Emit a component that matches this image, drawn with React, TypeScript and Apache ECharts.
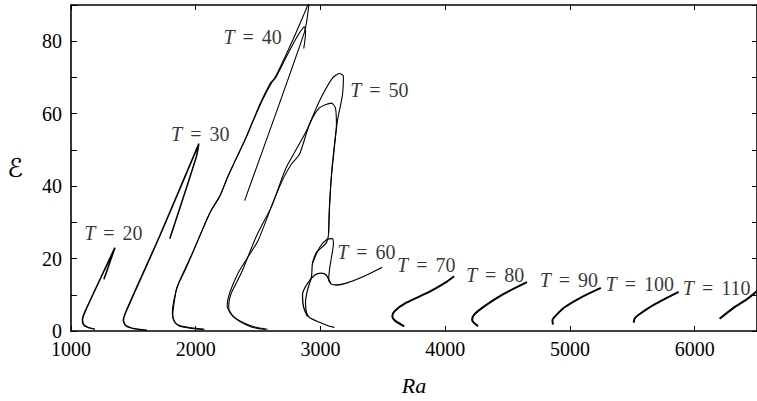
import React, { useEffect, useRef } from 'react';
import * as echarts from 'echarts';

// Curves: [Ra, E] pairs
const t20 = [[1192, 0.5], [1136, 1.0], [1100, 1.8], [1092, 3.2], [1120, 5.9], [1236, 14.5], [1352, 23.0], [1306, 18.4], [1264, 14.3]];
const t30 = [[1608, 0.2], [1512, 0.6], [1440, 1.5], [1420, 3.0], [1444, 5.6], [1712, 26.3], [2024, 51.6], [2004, 48.0], [1792, 25.5]];
const t40a = [[2072, 0.5], [1960, 0.9], [1872, 1.5], [1832, 2.5], [1816, 4.5], [1828, 8.0], [1848, 11.9], [1912, 17.0], [1976, 21.7], [2112, 32.5], [2192, 37.1], [2256, 42.6], [2330, 48.0], [2392, 52.6], [2440, 56.5], [2520, 63.0], [2600, 68.5], [2632, 69.8], [2700, 74.5], [2780, 80.5], [2850, 86.0], [2904, 90.5], [2912, 91.5], [2896, 87.0], [2872, 82.5], [2392, 36.0]];
const t40b = [[2060, 0.4], [1950, 0.8], [1866, 1.4], [1828, 2.6], [1812, 4.8], [1824, 8.3], [1856, 12.5], [1920, 17.2], [1984, 22.3], [2116, 32.8], [2196, 37.5], [2262, 42.9], [2338, 48.6], [2398, 52.9], [2452, 57.3], [2534, 63.7], [2610, 68.6], [2646, 70.2], [2716, 75.0], [2800, 80.5], [2856, 83.5], [2872, 84.0], [2880, 82.0], [2866, 78.0]];
const t50a = [[2576, 0.5], [2456, 1.3], [2312, 3.7], [2264, 6.4], [2280, 10.0], [2368, 16.2], [2488, 26.3], [2608, 34.4], [2696, 42.6], [2728, 45.3], [2888, 55.3], [2992, 63.5], [3096, 69.8], [3152, 71.1], [3184, 70.3], [3176, 65.1], [3136, 58.0], [3112, 50.7], [3088, 42.6], [3072, 34.4], [3064, 26.3]];
const t50b = [[2560, 0.4], [2440, 1.2], [2300, 4.0], [2252, 7.0], [2272, 10.5], [2340, 16.0], [2420, 20.5], [2500, 25.0], [2620, 35.5], [2700, 42.0], [2768, 46.1], [2832, 48.8], [2912, 57.0], [2992, 61.6], [3088, 62.9], [3120, 61.6], [3128, 57.0], [3112, 51.5], [3090, 44.0], [3074, 35.0], [3066, 27.0]];
const t60a = [[3064, 26.3], [3048, 24.4], [3008, 23.0], [2968, 21.7], [2936, 18.7], [2928, 14.9], [2896, 11.3], [2880, 7.8], [2888, 5.1], [2912, 3.7], [2992, 2.4], [3072, 1.3], [3112, 1.0]];
const t60b = [[2896, 4.0], [2864, 6.7], [2856, 10.0], [2888, 12.7], [2952, 15.4], [3008, 16.0], [3048, 15.4], [3072, 13.8], [3088, 12.9], [3128, 12.7], [3208, 13.2], [3336, 14.9], [3496, 17.6]];
const t60c = [[2936, 18.7], [2992, 23.0], [3048, 25.2], [3096, 25.5], [3104, 24.1], [3088, 20.3], [3072, 16.8], [3066, 14.0], [3080, 13.2]];
const t70 = [[3672, 1.3], [3600, 2.8], [3576, 4.0], [3592, 5.4], [3688, 7.8], [3872, 10.8], [4008, 13.5], [4072, 15.1]];
const t80 = [[4264, 1.3], [4224, 2.5], [4216, 3.1], [4232, 4.5], [4296, 6.4], [4456, 10.0], [4656, 13.5]];
const t90 = [[4864, 1.8], [4860, 3.0], [4872, 3.7], [4952, 6.4], [5080, 9.1], [5248, 11.9]];
const t100 = [[5512, 2.3], [5520, 3.5], [5552, 4.5], [5672, 7.2], [5872, 10.8]];
const t110 = [[6200, 3.4], [6312, 6.4], [6420, 8.8], [6520, 11.6]];

// Curve labels: T value and anchor position in data coordinates
const labelT = [20, 30, 40, 50, 60, 70, 80, 90, 100, 110];
const labelRa = [1340, 2036, 2456, 3472, 3368, 3848, 4400, 4992, 5560, 6176];
const labelE = [27.1, 54.5, 81.2, 66.5, 21.7, 18.1, 15.4, 14.0, 13.0, 11.9];

const xTicks = [1000, 2000, 3000, 4000, 5000, 6000];
const yTicks = [0, 20, 40, 60, 80];

const FONT = '"Liberation Serif", "DejaVu Serif", serif';

export default function App() {
  const ref = useRef<HTMLDivElement>(null);
  useEffect(() => {
    if (!ref.current) return;
    const chart = echarts.init(ref.current, undefined, { renderer: 'svg' });
    const curves: [number[][], number][] = [
      [t20, 1.6], [t30, 1.6], [t40a, 1.1], [t40b, 1.1], [t50a, 1.1], [t50b, 1.1],
      [t60a, 1.2], [t60b, 1.3], [t60c, 1.1], [t70, 2.0], [t80, 2.0], [t90, 2.0], [t100, 2.0], [t110, 2.0],
    ];
    const lineSeries = curves.map(([d, w], i) => ({
      type: 'line',
      name: 'c' + i,
      data: d,
      showSymbol: false,
      smooth: 0.25,
      clip: true,
      lineStyle: { color: '#000', width: w },
      silent: true,
    }));
    const labelSeries = {
      type: 'scatter',
      symbolSize: 0,
      data: labelT.map((t, i) => [labelRa[i], labelE[i], t]),
      label: {
        show: true,
        position: 'inside',
        formatter: (p: any) => `{i|T} {e|=} ${p.value[2]}`,
        color: '#000',
        fontFamily: FONT,
        fontSize: 20,
        rich: {
          i: { fontStyle: 'italic', fontFamily: FONT, fontSize: 20, color: '#000' },
          e: { fontFamily: FONT, fontSize: 20, color: '#000', padding: [0, 3, 0, 3] },
        },
      },
      silent: true,
    };
    const axisLine = { show: true, onZero: false, lineStyle: { color: '#000', width: 1.6 } };
    chart.setOption({
      animation: false,
      grid: { left: 71, top: 5, width: 687.5, height: 331.7, containLabel: false },
      xAxis: [
        {
          type: 'value', min: 1000, max: 6500, interval: 1000, position: 'bottom',
          axisLine, axisTick: { show: true, inside: true, length: 5, lineStyle: { color: '#000', width: 1 } },
          axisLabel: {
            color: '#000', fontFamily: FONT, fontSize: 20, lineHeight: 15, margin: 10, showMaxLabel: false,
            formatter: (v: number) => (xTicks.includes(v) ? String(v) : ''),
          },
          splitLine: { show: false },
          name: 'Ra', nameLocation: 'middle', nameGap: 43,
          nameTextStyle: { fontStyle: 'italic', fontFamily: FONT, fontSize: 22, color: '#000' },
        },
        {
          type: 'value', min: 1000, max: 6500, interval: 1000, position: 'top',
          axisLine, axisTick: { show: true, inside: true, length: 5, lineStyle: { color: '#000', width: 1 } },
          axisLabel: { show: false }, splitLine: { show: false },
        },
      ],
      yAxis: [
        {
          type: 'value', min: 0, max: 90, interval: 10, position: 'left',
          axisLine, axisTick: { show: true, inside: true, length: 6, lineStyle: { color: '#000', width: 1 } },
          axisLabel: {
            color: '#000', fontFamily: FONT, fontSize: 20, lineHeight: 15, margin: 9,
            formatter: (v: number) => (yTicks.includes(v) ? String(v) : ''),
          },
          splitLine: { show: false },
          name: '\u2130', nameLocation: 'middle', nameRotate: 0, nameGap: 48,
          nameTextStyle: { fontFamily: '"DejaVu Serif", "DejaVu Sans", serif', fontSize: 26, color: '#000' },
        },
        {
          type: 'value', min: 0, max: 90, interval: 10, position: 'right',
          axisLine, axisTick: { show: true, inside: true, length: 5, lineStyle: { color: '#000', width: 1 } },
          axisLabel: { show: false }, splitLine: { show: false },
        },
      ],
      series: [...lineSeries, labelSeries],
    } as any);
    return () => chart.dispose();
  }, []);
  return (
    <div
      ref={ref}
      style={{ position: 'fixed', left: 0, top: 0, width: 757, height: 401, background: '#fff' }}
    />
  );
}
